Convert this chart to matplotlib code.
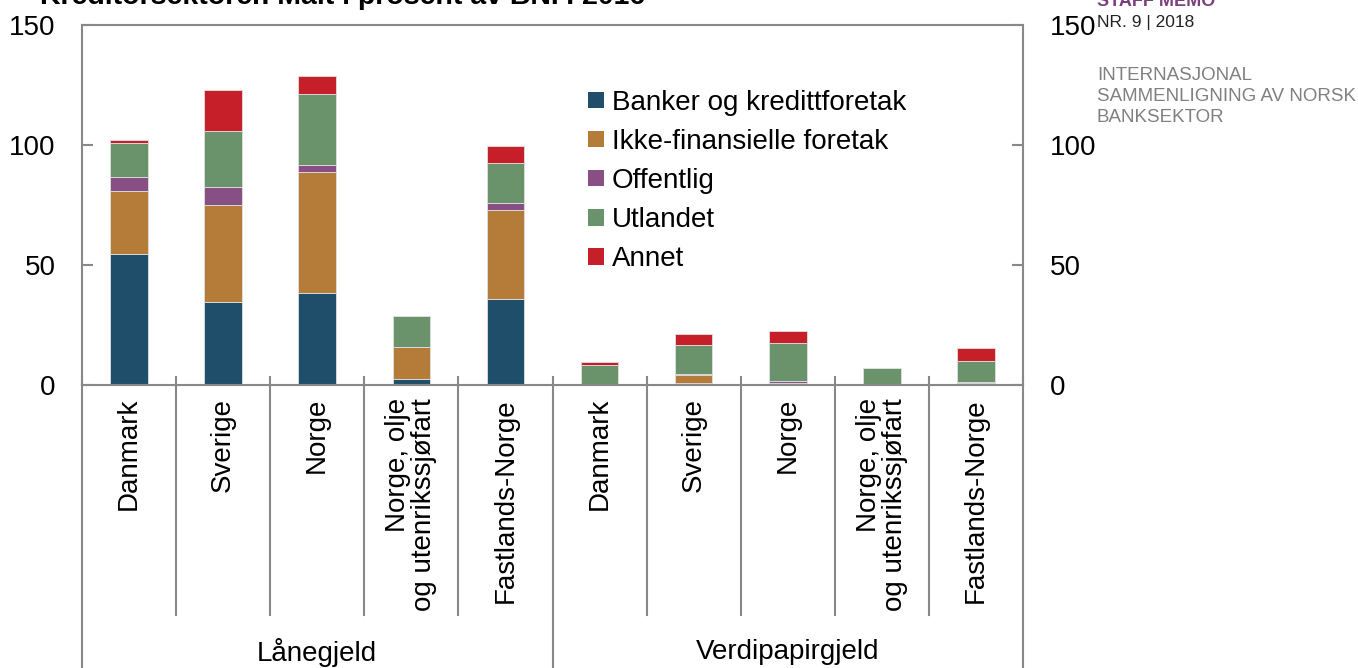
import numpy as np
import matplotlib
matplotlib.use('Agg')
import matplotlib.pyplot as plt
from matplotlib import rcParams
import matplotlib.transforms as mtransforms
from matplotlib.patches import Patch

rcParams['font.family'] = ['Liberation Sans', 'DejaVu Sans']

categories = ['Danmark', 'Sverige', 'Norge', 'Norge, olje\nog utenrikssjøfart', 'Fastlands-Norge'] * 2
groups = ['Lånegjeld', 'Verdipapirgjeld']
series = ['Banker og kredittforetak', 'Ikke-finansielle foretak', 'Offentlig', 'Utlandet', 'Annet']

banker = [54.5, 34.7, 38.5, 2.4, 35.7, 0.0, 1.0, 0.0, 0.0, 0.0]
ikkefin = [26.3, 40.3, 50.4, 13.4, 37.1, 0.0, 3.0, 1.0, 0.0, 0.7]
offentlig = [5.9, 7.4, 2.9, 0.0, 2.9, 0.0, 0.6, 0.7, 0.0, 0.55]
utlandet = [14.1, 23.4, 29.5, 12.9, 16.7, 8.3, 11.9, 15.8, 7.0, 8.9]
annet = [1.2, 17.2, 7.5, 0.0, 7.0, 1.3, 4.7, 5.0, 0.0, 5.2]

colors = ['#1f4e6b', '#b57b38', '#874f84', '#6a936c', '#c61f2a']

fig = plt.figure(figsize=(13.58, 6.68), dpi=100)
ax = fig.add_axes([82/1358, 1-385/668, 941/1358, 360/668])

x = np.arange(len(categories))
bottom = np.zeros(len(categories))
for vals, col in zip([banker, ikkefin, offentlig, utlandet, annet], colors):
    vals = np.array(vals)
    ax.bar(x, vals, width=0.4, bottom=bottom, color=col, edgecolor='#e0e0e0', linewidth=0.6)
    bottom += vals

ax.set_xlim(-0.5, 9.5)
ax.set_ylim(0, 150)
ax.set_yticks([0, 50, 100, 150])
ax.set_xticks([])
ax.tick_params(axis='y', direction='in', length=8, width=1.5, color='#888888',
               labelsize=20, pad=19, right=True, labelright=True)
for s in ax.spines.values():
    s.set_color('#888888')
    s.set_linewidth(1.5)

trans = mtransforms.blended_transform_factory(ax.transData, ax.transAxes)
# category separators
for b in [0.5, 1.5, 2.5, 3.5, 5.5, 6.5, 7.5, 8.5]:
    ax.plot([b, b], [0.022, -0.639], transform=trans, color='#888888', lw=1.5, clip_on=False)
# group separators
for b in [-0.5, 4.5, 9.5]:
    ax.plot([b, b], [0.022, -0.85], transform=trans, color='#888888', lw=1.5, clip_on=False)

for i, c in enumerate(categories):
    ax.text(i, -0.036, c, transform=trans, rotation=90, ha='center', va='top',
            multialignment='right', fontsize=20, linespacing=1.0)

ax.text(2, -0.742, groups[0], transform=trans, ha='center', va='center', fontsize=20)
ax.text(7, -0.742, groups[1], transform=trans, ha='center', va='center', fontsize=20)

handles = [Patch(facecolor=c, edgecolor='none') for c in colors]
ax.legend(handles, series, loc='upper left', bbox_to_anchor=(0.538, 0.82), frameon=False,
          fontsize=20, handlelength=0.55, handleheight=0.55, handletextpad=0.3,
          labelspacing=0.47, borderaxespad=0, borderpad=0)

fig.text(40/1358, 1-4/668, 'Kreditorsektorer. Målt i prosent av BNP. 2016', fontsize=20.5,
         fontweight='bold', ha='left', va='baseline')
fig.text(1097/1358, 1-6/668, 'STAFF MEMO', fontsize=13, fontweight='bold', color='#7b3f7f',
         ha='left', va='baseline')
fig.text(1097/1358, 1-22/668, 'NR. 9 | 2018', fontsize=12.5, color='#222222', ha='left', va='center')
fig.text(1097/1358, 1-67/668, 'INTERNASJONAL\nSAMMENLIGNING AV NORSK\nBANKSEKTOR', fontsize=13.5,
         color='#808080', ha='left', va='top', linespacing=1.3)

fig.savefig('out.png', dpi=100)
